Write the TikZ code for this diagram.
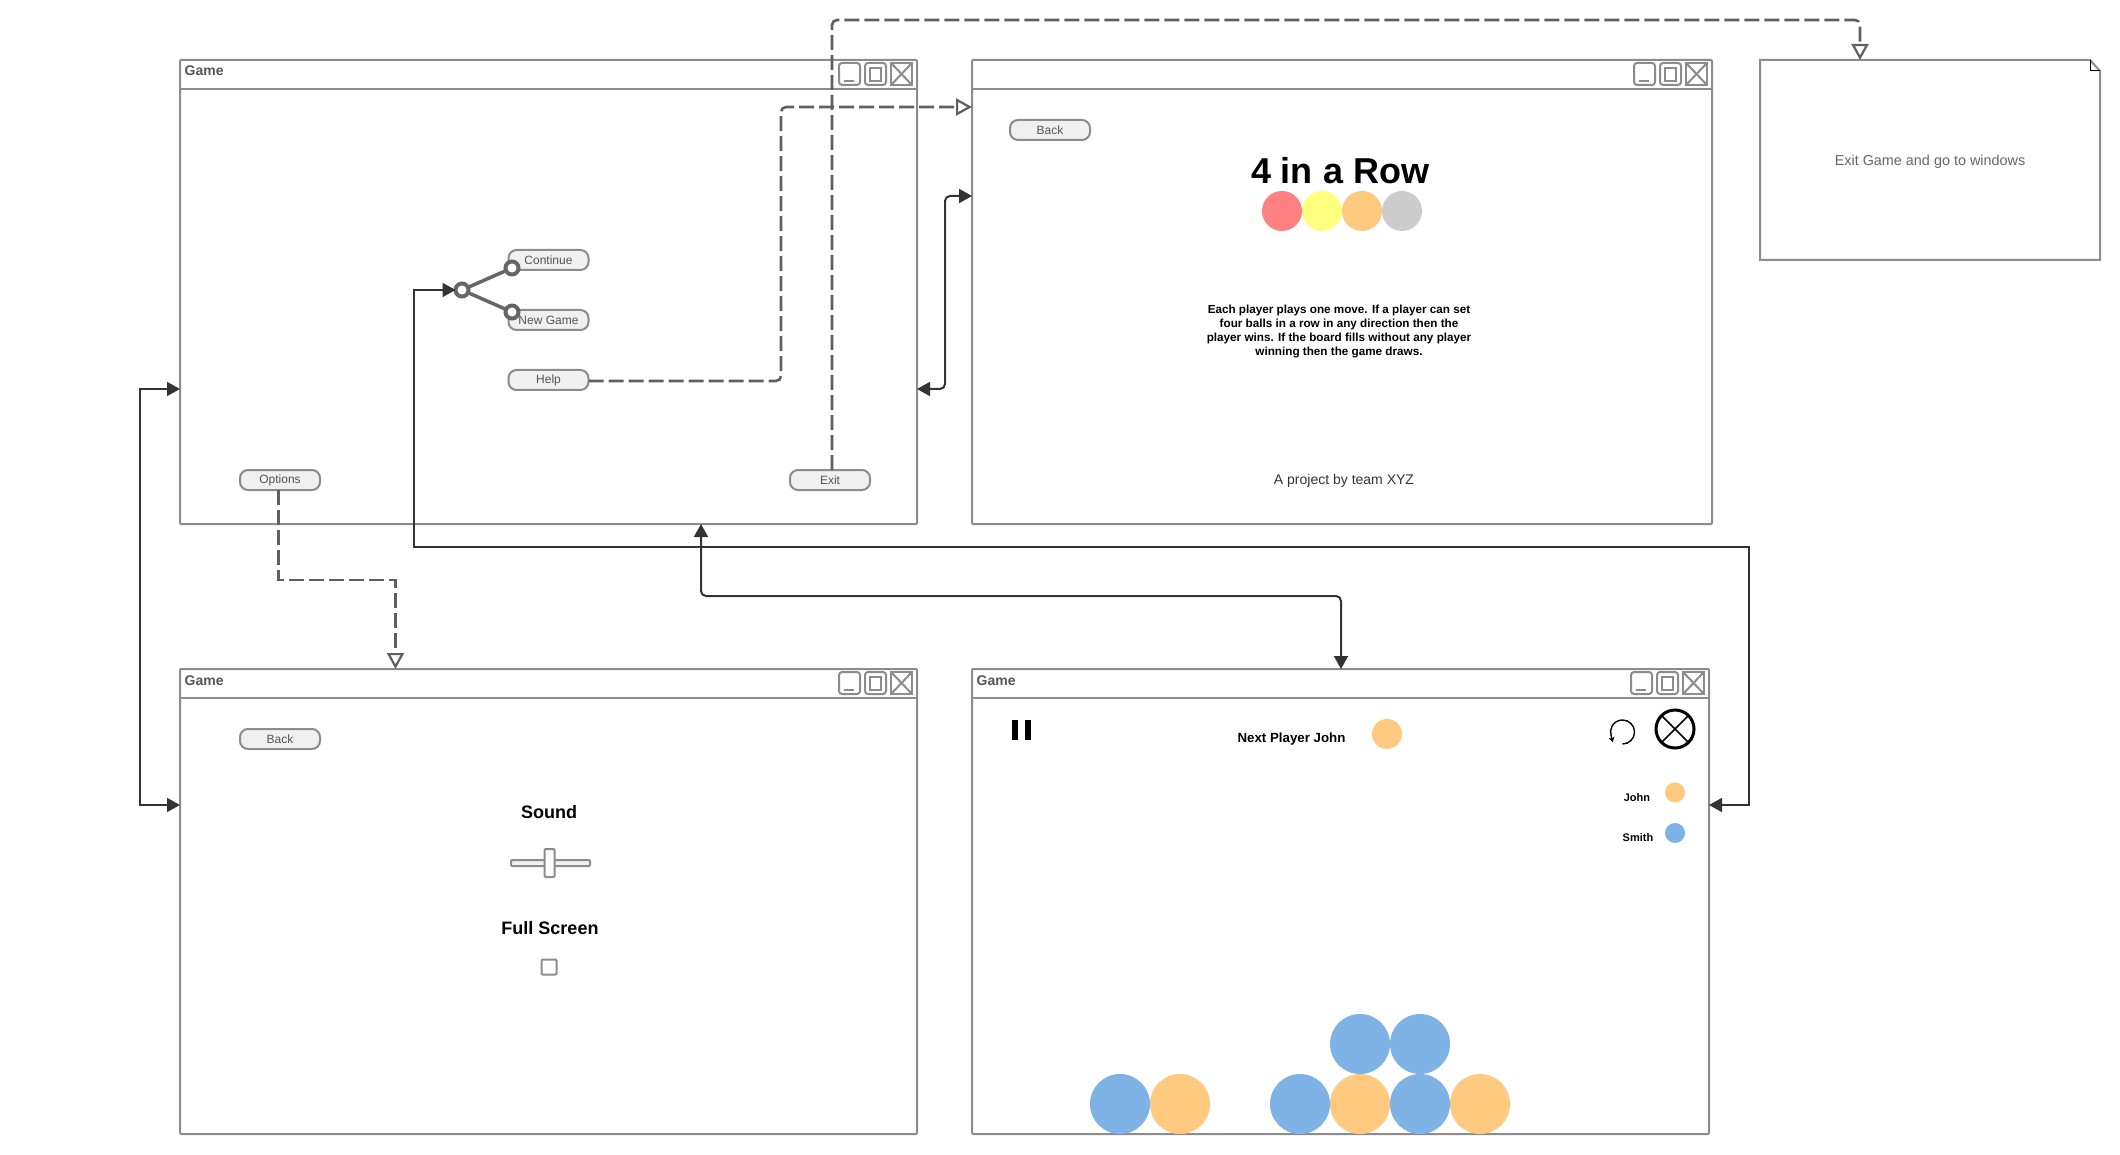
\documentclass[tikz,border=0pt]{standalone}
\usepackage{fontspec}
\setmainfont{Liberation Sans}
\usetikzlibrary{arrows.meta, positioning}

\definecolor{wndgray}{HTML}{8C8C8C}
\definecolor{btnfill}{HTML}{F0F0F0}
\definecolor{lbltext}{HTML}{555555}
\definecolor{linkgray}{HTML}{333333}
\definecolor{dashgray}{HTML}{5F5F5F}
\definecolor{forkgray}{HTML}{666666}
\definecolor{ballorange}{HTML}{FFCA7F}
\definecolor{ballblue}{HTML}{7FB2E5}
\definecolor{ballred}{HTML}{FF8080}
\definecolor{ballyellow}{HTML}{FFFF80}
\definecolor{ballgray}{HTML}{CCCCCC}

\tikzset{
  wnd/.style={rectangle, draw=wndgray, line width=2pt, fill=white, inner sep=0pt,
    outer sep=0pt, anchor=north west, rounded corners=1pt},
  wndline/.style={draw=wndgray, line width=2pt},
  wndtitle/.style={anchor=west, inner sep=0pt, text=lbltext,
    font=\fontsize{14}{16}\selectfont\bfseries},
  uibtn/.style={rectangle, rounded corners=8pt, draw=wndgray, line width=2pt, fill=btnfill,
    minimum width=80pt, minimum height=20pt, inner sep=0pt, outer sep=0pt, text=lbltext,
    font=\fontsize{12}{14}\selectfont},
  ball/.style={circle, fill=#1, inner sep=0pt, outer sep=0pt},
  solidlink/.style={draw=linkgray, line width=2pt, >={Triangle[length=13pt,width=14pt]}},
  dashlink/.style={draw=dashgray, line width=2.6pt, dash pattern=on 15pt off 5pt,
    -{Triangle[open,length=16pt,width=17pt,line width=2.2pt]}},
  branch/.style={circle, draw=forkgray, line width=4pt, fill=white, minimum size=13pt,
    inner sep=0pt, outer sep=0pt},
  plain/.style={inner sep=0pt, text=black}
}

\begin{document}
\begin{tikzpicture}[x=1pt, y=-1pt]
  \useasboundingbox (0,0) rectangle (2120,1155);

  \foreach \wname/\wx/\wy/\wr/\wb/\wtitle/\wtoff in {main/180/60/917/524/Game/11, rules/972/60/1712/524//11,
    settings/180/669/917/1134/Game/12, board/972/669/1709/1134/Game/12} {
    \node[wnd, minimum width={(\wr-\wx)*1pt}, minimum height={(\wb-\wy)*1pt}] (\wname) at (\wx,\wy) {};
    \draw[wndline] ([yshift=-29pt]\wname.north west) -- ([yshift=-29pt]\wname.north east);
    \node[wndtitle] (\wname title) at (\wx+4.5,\wy+\wtoff) {\wtitle};
    \begin{scope}[shift={(\wname.north east)}]
      \draw[wndline, rounded corners=3pt] (-78,3) rectangle (-57,25);
      \draw[wndline] (-73,21) -- (-63,21);
      \draw[wndline, rounded corners=3pt] (-52,3) rectangle (-31,25);
      \draw[wndline] (-47,8) rectangle (-36,21);
      \draw[wndline] (-26,3) rectangle (-5,25);
      \draw[wndline] (-26,3) -- (-5,25);
      \draw[wndline] (-26,25) -- (-5,3);
    \end{scope}
  }

  \node[uibtn] (continue) at (548.5,260) {Continue};
  \node[uibtn] (newgame) at (548.5,320) {New Game};
  \node[uibtn] (help) at (548.5,380) {Help};
  \node[uibtn] (options) at (280,480) {Options};
  \node[uibtn] (exit) at (830,480) {Exit};
  \node[uibtn] (rulesback) at (1050,130) {Back};
  \node[uibtn] (settingsback) at (280,739) {Back};

  \draw[draw=forkgray, line width=3.5pt] (462,290) -- (512,268);
  \draw[draw=forkgray, line width=3.5pt] (462,290) -- (512,312);
  \node[branch] (forkroot) at (462,290) {};
  \node[branch] (forkup) at (512,268) {};
  \node[branch] (forkdown) at (512,312) {};

  \node[plain, font=\fontsize{36}{40}\selectfont\bfseries] (gamename) at (1340,171) {4 in a Row};
  \foreach \i/\bx/\bcol in {1/1282/ballred, 2/1322/ballyellow, 3/1362/ballorange, 4/1402/ballgray}
    \node[ball=\bcol, minimum size=40pt] (logo\i) at (\bx,211) {};
  \node[plain, align=center, font=\fontsize{11.7}{14}\selectfont\bfseries] (howto) at (1339,331.5)
  {Each player plays one move. If a player can set\\
    four balls in a row in any direction then the\\
    player wins. If the board fills without any player\\
    winning then the game draws.};
  \node[plain, text=linkgray, font=\fontsize{14}{16}\selectfont] (credit) at (1344,481) {A project by team XYZ};

  \draw[wndline, fill=white] (1760,60) -- (2090,60) -- (2100,71) -- (2100,260) -- (1760,260) -- cycle;
  \draw[black, line width=1pt] (2090,60) -- (2090,71) -- (2100,71);
  \node[plain, text=lbltext!90!white, font=\fontsize{14.4}{16}\selectfont] (exittext) at (1930,162) {Exit Game and go to windows};

  \node[plain, font=\fontsize{18}{20}\selectfont\bfseries] (sound) at (549,812) {Sound};
  \draw[wndline, fill=btnfill, rounded corners=1pt] (511,860) rectangle (590,866);
  \draw[wndline, fill=white, rounded corners=1pt] (544.5,849) rectangle (554.5,877);
  \node[plain, font=\fontsize{18}{20}\selectfont\bfseries] (fullscreen) at (550,928) {Full Screen};
  \draw[wndline, rounded corners=1pt] (541.5,959.5) rectangle (556.5,974.5);

  \fill[black] (1012,720) rectangle (1018,740);
  \fill[black] (1024.5,720) rectangle (1030.5,740);
  \node[plain, font=\fontsize{13.3}{15}\selectfont\bfseries] (nextplayer) at (1291.5,739) {Next Player John};
  \node[ball=ballorange, minimum size=30pt] (nextball) at (1387,734) {};
  \draw[black, line width=1.4pt, -{Stealth[length=5pt,width=6pt]}] (1622.5,732) ++(-90:12pt) arc[start angle=-90, end angle=200, radius=12pt] -- ++(1.5,6);
  \node[circle, draw=black, line width=3pt, minimum size=38pt, inner sep=0pt, outer sep=0pt] (quit) at (1675,729) {};
  \draw[black, line width=1.5pt] (quit.45) -- (quit.225);
  \draw[black, line width=1.5pt] (quit.135) -- (quit.315);
  \node[plain, font=\fontsize{11}{13}\selectfont\bfseries] (johnname) at (1637,798) {John};
  \node[ball=ballorange, minimum size=20pt] (johnball) at (1675,792.5) {};
  \node[plain, font=\fontsize{11}{13}\selectfont\bfseries] (smithname) at (1638,838) {Smith};
  \node[ball=ballblue, minimum size=20pt] (smithball) at (1675,833) {};

  \foreach \i/\bx/\by/\bcol in {1/1120/1104/ballblue, 2/1180/1104/ballorange, 3/1300/1104/ballblue,
    4/1360/1104/ballorange, 5/1420/1104/ballblue, 6/1480/1104/ballorange,
    7/1360/1044/ballblue, 8/1420/1044/ballblue}
    \node[ball=\bcol, minimum size=60pt] (disc\i) at (\bx,\by) {};

  \coordinate (mainleft) at (180,389);
  \coordinate (mainright) at (917,389);
  \coordinate (mainbottom) at (701,524);
  \coordinate (rulesleft) at (972,196);
  \coordinate (rulestop) at (972,107);
  \coordinate (settingsleft) at (180,805);
  \coordinate (settingstop) at (395.5,669);
  \coordinate (boardtop) at (1341,669);
  \coordinate (boardright) at (1709,805);
  \coordinate (exitnote) at (1860,60);

  \draw[dashlink, rounded corners=5pt] (help.east |- 0,381) -- (781,381) -- (781,107) -- (rulestop);
  \draw[dashlink, rounded corners=5pt] (exit.north -| 832,0) -- (832,20) -- (1860,20) -- (exitnote);
  \draw[dashlink] (options.south -| 278.5,0) -- (278.5,580) -- (395.5,580) -- (settingstop);
  \draw[solidlink, <->, rounded corners=5pt] (mainright) -- (945,389) -- (945,196) -- (rulesleft);
  \draw[solidlink, <->] (mainleft) -- (139.5,389) -- (139.5,805) -- (settingsleft);
  \draw[solidlink, <->, rounded corners=5pt] (mainbottom) -- (701,596) -- (1341,596) -- (boardtop);
  \draw[solidlink, <->] (boardright) -- (1749,805) -- (1749,547) -- (414,547) -- (414,290) -- (forkroot);
\end{tikzpicture}
\end{document}
